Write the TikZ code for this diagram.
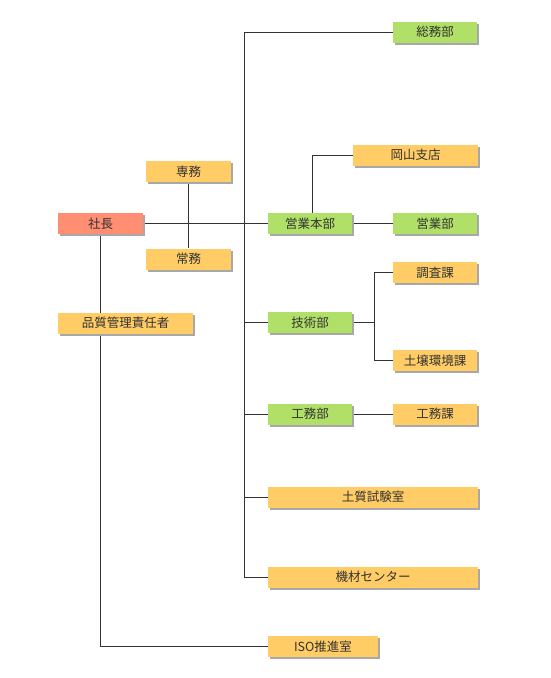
\documentclass[tikz,border=0pt]{standalone}
\usepackage{fontspec}
\setmainfont{Noto Sans CJK JP}
\usetikzlibrary{shadows,backgrounds}
\definecolor{orgbox}{HTML}{FFCC66}
\definecolor{grnbox}{HTML}{B0E068}
\definecolor{redbox}{HTML}{FF8E72}
\definecolor{txt}{HTML}{333333}
\definecolor{shd}{HTML}{A8A8A8}
\tikzset{
  box/.style={fill=#1, minimum height=21pt, inner sep=0pt, text=txt,
    font=\fontsize{12.5}{14}\selectfont,
    general shadow={fill=shd, shadow xshift=2pt, shadow yshift=-2pt}},
  bw/.style={minimum width=#1},
  conn/.style={draw=txt, line width=1pt}
}
\begin{document}
\begin{tikzpicture}[x=1pt,y=-1pt]
\useasboundingbox (0,0) rectangle (550,678);
\node[box=redbox, bw=85pt] (shacho) at (100.5,223.5) {社長};
\node[box=orgbox, bw=85pt] (senmu) at (188.5,171.5) {専務};
\node[box=orgbox, bw=85pt] (jomu) at (188.5,259) {常務};
\node[box=orgbox, bw=135pt] (hinshitsu) at (125.5,323) {品質管理責任者};
\node[box=grnbox, bw=84pt] (somu) at (435,32) {総務部};
\node[box=orgbox, bw=125pt] (okayama) at (415.5,155) {岡山支店};
\node[box=grnbox, bw=84pt] (eigyohonbu) at (310,223.5) {営業本部};
\node[box=grnbox, bw=84pt] (eigyo) at (435,223.5) {営業部};
\node[box=orgbox, bw=84pt] (chosa) at (435,272.5) {調査課};
\node[box=grnbox, bw=84pt] (gijutsu) at (310,322.5) {技術部};
\node[box=orgbox, bw=84pt] (dojo) at (435,360.5) {土壌環境課};
\node[box=grnbox, bw=84pt] (komubu) at (310,414) {工務部};
\node[box=orgbox, bw=84pt] (komuka) at (435,414) {工務課};
\node[box=orgbox, bw=210pt] (doshitsu) at (373,497) {土質試験室};
\node[box=orgbox, bw=210pt] (kizai) at (373,577) {機材センター};
\node[box=orgbox, bw=110pt] (iso) at (323,646.5) {ISO推進室};
\coordinate (trunk) at (244,0);
\coordinate (okx) at (312,0);
\coordinate (br) at (374,0);
\begin{scope}[on background layer]
\draw[conn] (somu.west) -- (somu.west -| trunk) -- (kizai.west -| trunk) -- (kizai.west);
\draw[conn] (shacho.east) -- (eigyohonbu.west);
\draw[conn] (senmu.south) -- (jomu.north);
\draw[conn] (eigyohonbu.north -| okx) |- (okayama.west);
\draw[conn] (eigyohonbu.east) -- (eigyo.west);
\draw[conn] (gijutsu.west -| trunk) -- (gijutsu.west);
\draw[conn] (gijutsu.east) -- (gijutsu.east -| br);
\draw[conn] (chosa.west) -| (dojo.west -| br) -- (dojo.west);
\draw[conn] (komubu.west -| trunk) -- (komubu.west);
\draw[conn] (komubu.east) -- (komuka.west);
\draw[conn] (doshitsu.west -| trunk) -- (doshitsu.west);
\draw[conn] (shacho.south) |- (iso.west);
\end{scope}
\end{tikzpicture}
\end{document}
